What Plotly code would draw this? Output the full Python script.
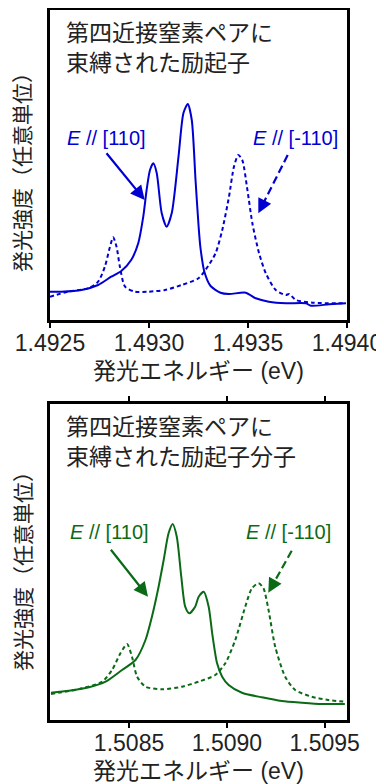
import plotly.graph_objects as go

# The page body adds an 8px margin, so the figure is drawn 8px in from the corner.
OFF = 8
W, H = 384 - OFF, 784 - OFF

# ---------------- data ----------------
# Top panel: exciton bound to 4th-nearest N pair
top_e_110 = [1.492500, 1.492557, 1.492659, 1.492743, 1.492809, 1.492860, 1.492910, 1.492946,
             1.492971, 1.492988, 1.493005, 1.493022, 1.493039, 1.493064, 1.493089, 1.493115,
             1.493149, 1.493174, 1.493196, 1.493216, 1.493235, 1.493250, 1.493260, 1.493280,
             1.493311, 1.493361, 1.493404, 1.493488, 1.493539, 1.493605, 1.493691, 1.493792,
             1.493818, 1.493910, 1.493995]
top_i_110 = [28.3, 28.3, 30.0, 35.0, 43.3, 49.0, 60.0, 77.0,
             103.3, 130.0, 150.0, 156.7, 147.0, 107.0, 93.3, 107.0,
             163.3, 207.0, 216.0, 200.0, 140.0, 95.0, 72.0, 48.0,
             34.0, 27.3, 26.0, 27.3, 21.7, 18.3, 16.7, 16.7,
             14.3, 15.7, 16.7]

top_e_m110 = [1.492500, 1.492591, 1.492693, 1.492743, 1.492777, 1.492803, 1.492819, 1.492836,
              1.492853, 1.492879, 1.492929, 1.492997, 1.493081, 1.493165, 1.493250, 1.493285,
              1.493336, 1.493370, 1.493404, 1.493429, 1.493451, 1.493471, 1.493497, 1.493522,
              1.493556, 1.493590, 1.493640, 1.493691, 1.493708, 1.493742, 1.493826, 1.493995]
top_i_m110 = [23.3, 28.3, 31.7, 38.3, 53.3, 73.3, 82.7, 73.3,
              53.3, 33.3, 28.3, 28.3, 30.0, 35.0, 41.7, 50.0,
              66.7, 90.0, 123.3, 153.3, 165.0, 160.0, 130.0, 96.7,
              66.7, 46.7, 30.0, 25.0, 26.0, 20.0, 17.3, 16.7]

# Bottom panel: excitonic molecule bound to 4th-nearest N pair
bot_e_110 = [1.508101, 1.508193, 1.508295, 1.508380, 1.508464, 1.508533, 1.508584, 1.508617,
             1.508651, 1.508677, 1.508702, 1.508723, 1.508744, 1.508767, 1.508787, 1.508808,
             1.508838, 1.508856, 1.508882, 1.508907, 1.508925, 1.508950, 1.508976, 1.509009,
             1.509077, 1.509179, 1.509281, 1.509383, 1.509485, 1.509603]
bot_i_110 = [27.3, 29.3, 32.7, 38.3, 50.0, 60.0, 80.0, 103.3,
             133.3, 160.0, 186.7, 196.0, 183.3, 143.3, 113.3, 106.7,
             113.3, 123.3, 128.3, 113.3, 86.7, 56.7, 43.3, 35.0,
             27.3, 22.7, 19.0, 17.3, 16.0, 16.0]

bot_e_m110 = [1.508101, 1.508261, 1.508363, 1.508413, 1.508456, 1.508490, 1.508515, 1.508541,
              1.508584, 1.508668, 1.508770, 1.508856, 1.508941, 1.508992, 1.509043, 1.509094,
              1.509128, 1.509162, 1.509187, 1.509213, 1.509247, 1.509298, 1.509349, 1.509434,
              1.509518, 1.509603]
bot_i_m110 = [26.0, 31.7, 38.3, 50.0, 66.7, 76.0, 63.3, 43.3,
              33.3, 30.7, 33.3, 38.3, 45.0, 56.7, 80.0, 113.3,
              131.7, 136.7, 131.7, 110.0, 73.3, 43.3, 30.0, 23.3,
              20.0, 18.3]

top_ticks = [1.4925, 1.4930, 1.4935, 1.4940]
bot_ticks = [1.5085, 1.5090, 1.5095]

top_title = "第四近接窒素ペアに<br>束縛された励起子"
bot_title = "第四近接窒素ペアに<br>束縛された励起子分子"
x_title = "発光エネルギー (eV)"
y_title = "発光強度（任意単位）"
lab_110 = "<i>E</i> // [110]"
lab_m110 = "<i>E</i> // [-110]"

BLUE = "#0000d2"
GREEN = "#0b6a16"
FONT = "Liberation Sans, Arial, Noto Sans CJK JP, sans-serif"


def px(x):
    return (x - OFF) / W


def py(y):
    return 1 - (y - OFF) / H


fig = go.Figure()
fig.add_trace(go.Scatter(x=top_e_110, y=top_i_110, mode="lines", xaxis="x", yaxis="y",
                         line=dict(color=BLUE, width=2, shape="spline", smoothing=0.7)))
fig.add_trace(go.Scatter(x=top_e_m110, y=top_i_m110, mode="lines", xaxis="x", yaxis="y",
                         line=dict(color=BLUE, width=2, dash="4px,3px", shape="spline", smoothing=0.7)))
fig.add_trace(go.Scatter(x=bot_e_110, y=bot_i_110, mode="lines", xaxis="x2", yaxis="y2",
                         line=dict(color=GREEN, width=2, shape="spline", smoothing=0.7)))
fig.add_trace(go.Scatter(x=bot_e_m110, y=bot_i_m110, mode="lines", xaxis="x2", yaxis="y2",
                         line=dict(color=GREEN, width=2, dash="4px,3px", shape="spline", smoothing=0.7)))

xdom = [px(50), px(347)]
axis_common = dict(showline=True, linecolor="black", linewidth=3, mirror="ticks",
                   ticks="outside", ticklen=5, tickwidth=2, tickcolor="black",
                   showgrid=False, zeroline=False, automargin=False, ticklabelstandoff=-5,
                   tickfont=dict(family=FONT, size=23, color="#222"))
yaxis_common = dict(showline=True, linecolor="black", linewidth=3, mirror=True, automargin=False,
                    ticks="", showticklabels=False, showgrid=False, zeroline=False)

fig.update_layout(
    width=W, height=H,
    margin=dict(l=0, r=0, t=0, b=0, pad=0),
    paper_bgcolor="white", plot_bgcolor="white",
    showlegend=False,
    font=dict(family=FONT, color="#222"),
    xaxis=dict(domain=xdom, anchor="y", range=[1.4925, 1.4940],
               tickvals=top_ticks, tickformat=".4f", **axis_common),
    yaxis=dict(domain=[py(320), py(10)], anchor="x", range=[0, 310], **yaxis_common),
    xaxis2=dict(domain=xdom, anchor="y2", range=[1.508096, 1.509614],
                tickvals=bot_ticks, tickformat=".4f", **axis_common),
    yaxis2=dict(domain=[py(720), py(404)], anchor="x2", range=[0, 316], **yaxis_common),
)

ann = []
# panel titles
ann.append(dict(text=top_title, x=px(64), y=py(48), xref="paper", yref="paper",
                xanchor="left", yanchor="middle", align="left", showarrow=False,
                font=dict(family=FONT, size=23, color="#222")))
ann.append(dict(text=bot_title, x=px(64), y=py(442), xref="paper", yref="paper",
                xanchor="left", yanchor="middle", align="left", showarrow=False,
                font=dict(family=FONT, size=23, color="#222")))
# axis titles
for yc in (371, 771):
    ann.append(dict(text=x_title, x=px(198), y=py(yc), xref="paper", yref="paper",
                    xanchor="center", yanchor="middle", showarrow=False,
                    font=dict(family=FONT, size=23, color="#222")))
for yc in (167, 566):
    ann.append(dict(text=y_title, x=px(23), y=py(yc), xref="paper", yref="paper",
                    xanchor="center", yanchor="middle", showarrow=False, textangle=-90,
                    font=dict(family=FONT, size=21, color="#222")))
# polarization labels
for (xl, xr, yc, col) in ((65, 340, 138, BLUE), (68, 333, 532, GREEN)):
    ann.append(dict(text=lab_110, x=px(xl), y=py(yc), xref="paper", yref="paper",
                    xanchor="left", yanchor="middle", showarrow=False,
                    font=dict(family=FONT, size=20, color=col)))
    ann.append(dict(text=lab_m110, x=px(xr), y=py(yc), xref="paper", yref="paper",
                    xanchor="right", yanchor="middle", showarrow=False,
                    font=dict(family=FONT, size=20, color=col)))

# solid arrows
for (sx, sy, tx, ty, col) in ((105.3, 151.7, 144.7, 200.0, BLUE), (109.7, 548.3, 148.0, 596.7, GREEN)):
    ann.append(dict(text="", x=px(tx), y=py(ty), xref="paper", yref="paper",
                    ax=sx - tx, ay=sy - ty, showarrow=True, arrowhead=2, arrowsize=1.3,
                    arrowwidth=2.2, arrowcolor=col, standoff=0))

shapes = []
# dashed arrows
for (sx, sy, tx, ty, col) in ((287.7, 155.0, 258.3, 213.3, BLUE), (291.7, 550.7, 268.3, 592.7, GREEN)):
    dx, dy = tx - sx, ty - sy
    L = (dx * dx + dy * dy) ** 0.5
    ux, uy = dx / L, dy / L
    hx, hy = tx - ux * 9, ty - uy * 9
    shapes.append(dict(type="line", xref="paper", yref="paper",
                       x0=px(sx), y0=py(sy), x1=px(hx), y1=py(hy),
                       line=dict(color=col, width=2.2, dash="8px,4px")))
    ann.append(dict(text="", x=px(tx), y=py(ty), xref="paper", yref="paper",
                    ax=-ux * 10, ay=-uy * 10, showarrow=True, arrowhead=2, arrowsize=1.3,
                    arrowwidth=2.2, arrowcolor=col, standoff=0))

fig.update_layout(annotations=ann, shapes=shapes)
fig.write_html("out.html")
